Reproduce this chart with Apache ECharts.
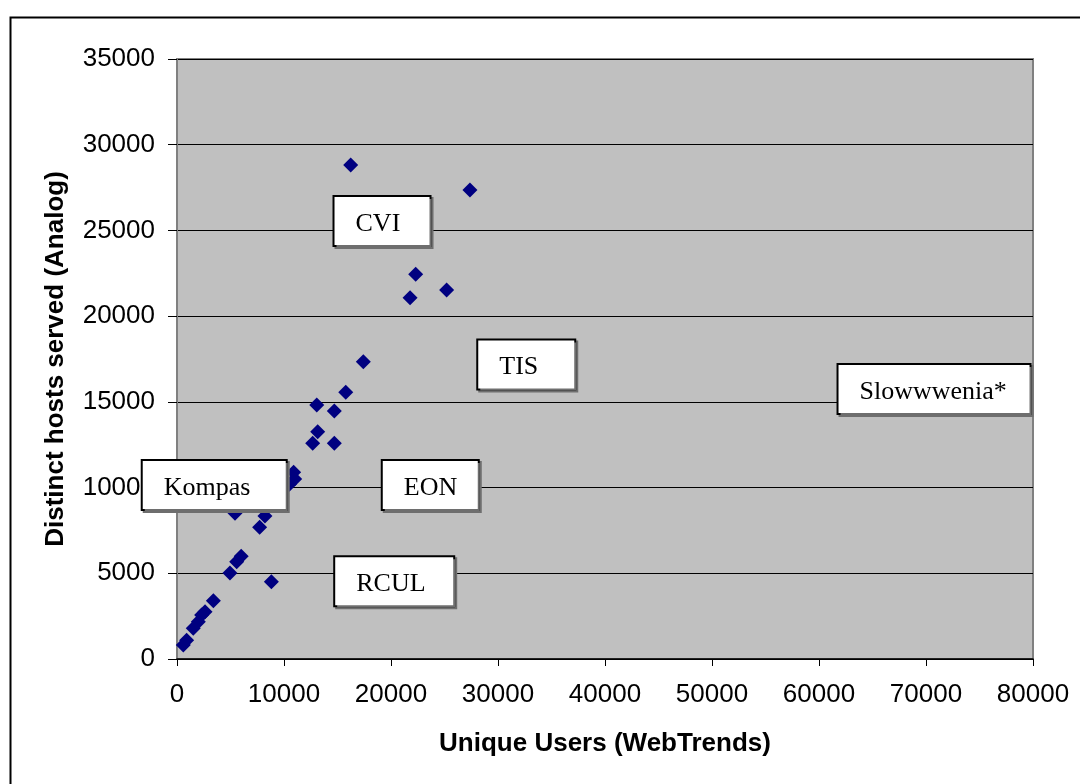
<!DOCTYPE html>
<html>
<head>
<meta charset="utf-8">
<script src="https://cdn.jsdelivr.net/npm/echarts@6/dist/echarts.min.js"></script>
<style>
html,body{margin:0;padding:0;background:#fff;}
#chart{width:1080px;height:784px;}
</style>
</head>
<body>
<div id="chart"></div>
<script>
// Unique Users (WebTrends) vs Distinct hosts served (Analog)
const uniqueUsers = [590, 900, 1520, 1990, 2300, 2620, 3400, 4950, 5580, 6000, 8820, 7720, 8220, 5420,
  10900, 11000, 10500, 13060, 13150, 12680, 14700, 14700, 15770, 17410, 21780, 22310, 25200, 16230, 27380];
const distinctHosts = [820, 1100, 1790, 2180, 2570, 2760, 3400, 5020, 5680, 6000, 4510, 7680, 8340, 8500,
  10900, 10500, 10200, 14820, 13260, 12580, 14470, 12580, 15560, 17340, 21080, 22440, 21520, 28820, 27360];

// text boxes placed in data units (centre of each box)
const noteNames = ['CVI', 'TIS', 'Slowwwenia*', 'Kompas', 'EON', 'RCUL'];
const noteX = [19160, 32640, 70750, 3480, 23670, 20300];
const noteY = [25550, 17180, 15750, 10150, 10150, 4530];

const xTicks = [0, 10000, 20000, 30000, 40000, 50000, 60000, 70000, 80000];
const yTicks = [0, 5000, 10000, 15000, 20000, 25000, 30000, 35000];

// box widths (px) for each note
const noteBoxWidth = {'CVI': 97, 'TIS': 98, 'Slowwwenia*': 193, 'Kompas': 145, 'EON': 97, 'RCUL': 120};

const points = uniqueUsers.map((x, i) => [x, distinctHosts[i]]);
const notes = noteNames.map((n, i) => {
  const w = noteBoxWidth[n];
  return {
    name: n,
    value: [noteX[i], noteY[i]],
    label: { rich: { t: { width: w - 25, fontFamily: 'Liberation Serif', fontSize: 26, color: '#000', align: 'left', lineHeight: 30 } } }
  };
});

const chart = echarts.init(document.getElementById('chart'), null, {renderer: 'canvas'});
chart.setOption({
  backgroundColor: '#fff',
  animation: false,
  graphic: [{
    type: 'rect', left: 8, top: 15, z: 100, silent: true,
    shape: {width: 1100, height: 800},
    style: {fill: 'none', stroke: '#000', lineWidth: 2}
  }],
  grid: {
    left: 177, top: 59, right: 47, bottom: 125,
    show: true, backgroundColor: '#C0C0C0', borderColor: '#808080', borderWidth: 2
  },
  xAxis: {
    type: 'value', min: xTicks[0], max: xTicks[xTicks.length - 1], interval: 10000,
    name: 'Unique Users (WebTrends)', nameLocation: 'middle', nameGap: 72,
    nameTextStyle: {fontFamily: 'Liberation Sans', fontSize: 26, fontWeight: 'bold', color: '#000'},
    axisLine: {show: true, lineStyle: {color: '#000', width: 1.5}},
    axisTick: {show: true, length: 7, lineStyle: {color: '#000'}},
    axisLabel: {fontFamily: 'Liberation Sans', fontSize: 26, color: '#000', margin: 23, formatter: v => String(v)},
    splitLine: {show: false}
  },
  yAxis: {
    type: 'value', min: yTicks[0], max: yTicks[yTicks.length - 1], interval: 5000,
    name: 'Distinct hosts served (Analog)', nameLocation: 'middle', nameGap: 108,
    nameTextStyle: {fontFamily: 'Liberation Sans', fontSize: 26, fontWeight: 'bold', color: '#000'},
    axisLine: {show: true, lineStyle: {color: '#808080', width: 2}},
    axisTick: {show: true, length: 9, lineStyle: {color: '#000'}},
    axisLabel: {fontFamily: 'Liberation Sans', fontSize: 26, color: '#000', margin: 22, formatter: v => String(v)},
    splitLine: {show: true, lineStyle: {color: '#000', width: 1}}
  },
  series: [{
    type: 'scatter',
    data: points,
    symbol: 'diamond',
    symbolSize: 15,
    itemStyle: {color: '#000080', opacity: 1},
    z: 2
  }, {
    type: 'scatter',
    data: notes,
    symbolSize: 1,
    itemStyle: {color: 'rgba(0,0,0,0)', opacity: 1},
    z: 5,
    clip: false,
    label: {
      show: true,
      position: 'inside',
      formatter: p => '{t|' + p.name + '}',
      backgroundColor: '#fff',
      borderColor: '#000',
      borderWidth: 2,
      padding: [12, 2, 6, 21],
      shadowColor: 'rgba(110,110,110,1)',
      shadowOffsetX: 2,
      shadowOffsetY: 2,
      shadowBlur: 0
    }
  }]
});
</script>
</body>
</html>
